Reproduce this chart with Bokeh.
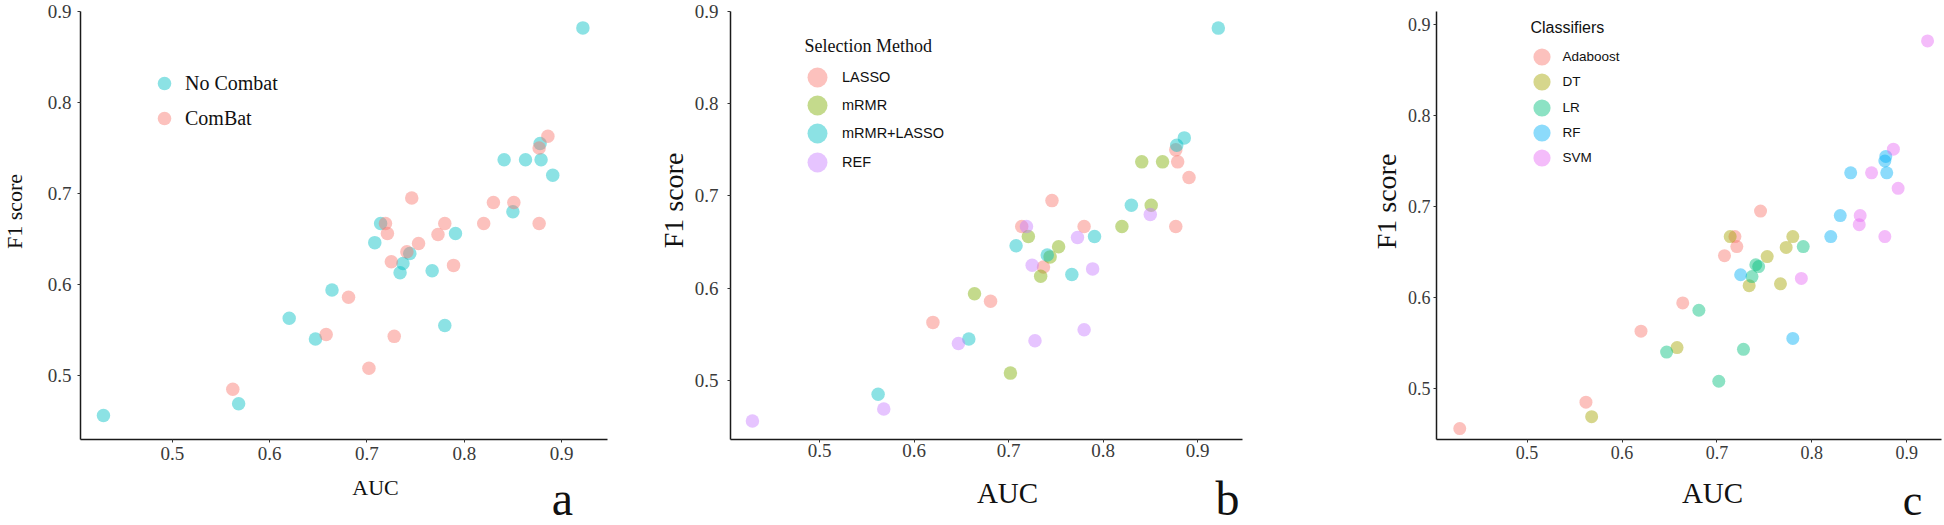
import math
from bokeh.plotting import figure
from bokeh.models import Range1d, FixedTicker, Legend, LegendItem, Label
from bokeh.layouts import row, column
from bokeh.embed import file_html
from bokeh.resources import INLINE

# ---------------- data (40 models: 20 without ComBat, 20 with ComBat) ----------------
auc = [0.922, 0.878, 0.841, 0.863, 0.879, 0.891, 0.850, 0.714, 0.708, 0.791,
       0.744, 0.737, 0.734, 0.767, 0.664, 0.620, 0.647, 0.780, 0.568, 0.429,
       0.886, 0.877, 0.746, 0.830, 0.851, 0.719, 0.820, 0.780, 0.877, 0.721,
       0.773, 0.753, 0.741, 0.725, 0.789, 0.681, 0.658, 0.728, 0.702, 0.562]
f1 = [0.882, 0.755, 0.737, 0.737, 0.737, 0.720, 0.680, 0.667, 0.646, 0.656,
      0.634, 0.623, 0.613, 0.615, 0.594, 0.563, 0.540, 0.555, 0.469, 0.456,
      0.763, 0.750, 0.695, 0.690, 0.690, 0.667, 0.667, 0.667, 0.667, 0.656,
      0.655, 0.645, 0.636, 0.625, 0.621, 0.586, 0.545, 0.543, 0.508, 0.485]
combat = ["No Combat"] * 20 + ["ComBat"] * 20
selection = ["mRMR+LASSO", "mRMR+LASSO", "mRMR", "mRMR", "LASSO", "LASSO", "REF", "LASSO", "mRMR+LASSO", "mRMR+LASSO",
             "mRMR", "LASSO", "mRMR", "mRMR+LASSO", "mRMR", "LASSO", "REF", "REF", "REF", "REF",
             "mRMR+LASSO", "LASSO", "LASSO", "mRMR+LASSO", "mRMR", "REF", "mRMR", "LASSO", "LASSO", "mRMR",
             "REF", "mRMR", "mRMR+LASSO", "REF", "REF", "LASSO", "mRMR+LASSO", "REF", "mRMR", "mRMR+LASSO"]
classifier = ["SVM", "RF", "RF", "SVM", "RF", "SVM", "SVM", "DT", "Adaboost", "LR",
              "LR", "LR", "DT", "DT", "Adaboost", "Adaboost", "LR", "RF", "DT", "Adaboost",
              "SVM", "RF", "Adaboost", "RF", "SVM", "Adaboost", "RF", "DT", "SVM", "Adaboost",
              "DT", "DT", "LR", "RF", "SVM", "LR", "DT", "LR", "LR", "Adaboost"]

combat_groups = ["No Combat", "ComBat"]
combat_colors = ["#00BFC4", "#F8766D"]
selection_groups = ["LASSO", "mRMR", "mRMR+LASSO", "REF"]
selection_colors = ["#F8766D", "#7CAE00", "#00BFC4", "#C77CFF"]
classifier_groups = ["Adaboost", "DT", "LR", "RF", "SVM"]
classifier_colors = ["#F8766D", "#A3A500", "#00BF7D", "#00B0F6", "#E76BF3"]

tick_values = [0.5, 0.6, 0.7, 0.8, 0.9]
tick_labels = ["0.5", "0.6", "0.7", "0.8", "0.9"]
x_title = "AUC"
y_title = "F1 score"
letters = ["a", "b", "c"]
legend_titles = [None, "Selection Method", "Classifiers"]

SERIF = "Liberation Serif"
SANS = "Liberation Sans"
HT = 472          # height of the row holding the plots
HB = 525 - HT     # height of the strip holding x titles and panel letters
TOP = 11          # common top border
FB = 439          # common frame bottom (canvas px)
BOT = HT - FB     # common bottom border


def blank(width, height, top=0, bottom=0):
    f = figure(width=width, height=height, x_range=Range1d(0, 1), y_range=Range1d(0, 1),
               x_axis_type=None, y_axis_type=None,
               min_border_left=0, min_border_right=0,
               min_border_top=top, min_border_bottom=bottom,
               output_backend="svg", toolbar_location=None)
    f.outline_line_color = None
    f.background_fill_color = "white"
    f.border_fill_color = "white"
    return f


def text_label(f, x, y, text, font, size, angle=0.0, align="center"):
    f.add_layout(Label(x=x, y=y, x_units="screen", y_units="screen", text=text,
                       text_font=font, text_font_size=size, angle=angle,
                       text_align=align, text_baseline="middle", text_color="#111111"))


def make_panel(attr, groups, colors, cfg):
    p = figure(width=cfg["w"], height=HT,
               x_range=Range1d(*cfg["xr"]), y_range=Range1d(*cfg["yr"]),
               min_border_left=cfg["ml"], min_border_right=cfg["mr"],
               min_border_top=TOP, min_border_bottom=BOT,
               output_backend="svg", toolbar_location=None)
    p.background_fill_color = "white"
    p.border_fill_color = "white"
    p.outline_line_color = None
    p.grid.visible = False
    for ax in (p.xaxis, p.yaxis):
        ax.ticker = FixedTicker(ticks=tick_values)
        ax.major_label_overrides = {v: t for v, t in zip(tick_values, tick_labels)}
        ax.minor_tick_line_color = None
        ax.major_tick_in = 0
        ax.major_tick_out = 3
        ax.major_tick_line_color = "#333333"
        ax.axis_line_color = "#1a1a1a"
        ax.axis_line_width = 1.5
        ax.major_label_text_font = SERIF
        ax.major_label_text_font_size = cfg["tick_fs"]
        ax.major_label_text_color = "#3a3a3a"
    p.xaxis.major_label_standoff = cfg["xstand"]
    p.yaxis.major_label_standoff = cfg["ystand"]

    lg = cfg["legend"]
    half = lg["box"] / 2.0
    for i, (g, c) in enumerate(zip(groups, colors)):
        xs = [a for a, k in zip(auc, attr) if k == g]
        ys = [b for b, k in zip(f1, attr) if k == g]
        r = p.scatter(xs, ys, size=cfg["ms"], fill_color=c, fill_alpha=0.45,
                      line_color=None)
        vy = FB - (lg["cy"][i] + half)
        legend = Legend(items=[LegendItem(label=g, renderers=[r])],
                        location=(lg["vx"], vy),
                        glyph_width=lg["box"], glyph_height=lg["box"],
                        spacing=0, padding=0, margin=0,
                        label_standoff=lg["standoff"],
                        label_text_font=lg["font"], label_text_font_size=lg["fs"],
                        label_text_color="#111111",
                        background_fill_alpha=0, border_line_color=None)
        p.add_layout(legend)

    if cfg["ltitle"]:
        t = cfg["ltitle"]
        text_label(p, t["x"], t["y"], t["text"], t["font"], t["fs"], align="left")
    return p


# frame: panel a 80..607, panel b 730..1242, panel c 1434..1941 (page px)
cfg_a = dict(w=610, xr=(0.4054, 0.9473), yr=(0.42967, 0.900), ml=50, mr=33,
             tick_fs="19px", xstand=4, ystand=6, ms=13.5,
             legend=dict(vx=67, cy=[83, 118], box=34, standoff=4, font=SERIF, fs="20px"),
             ltitle=None)
cfg_b = dict(w=640, xr=(0.4058, 0.9476), yr=(0.43604, 0.900), ml=40, mr=88,
             tick_fs="19px", xstand=1, ystand=9, ms=13.5,
             legend=dict(vx=62, cy=[77, 105, 133, 162], box=50, standoff=0, font=SANS, fs="14.5px"),
             ltitle=dict(x=74, y=FB - 45, text=legend_titles[1], font=SERIF, fs="18px"))
cfg_c = dict(w=540, xr=(0.4045, 0.9367), yr=(0.44396, 0.91429), ml=30, mr=3,
             tick_fs="18px", xstand=3, ystand=3, ms=13,
             legend=dict(vx=83.5, cy=[56, 81, 107, 132, 157], box=43, standoff=0, font=SANS, fs="13.5px"),
             ltitle=dict(x=94, y=FB - 27, text=legend_titles[2], font=SANS, fs="16px"))

pa = make_panel(combat, combat_groups, combat_colors, cfg_a)
pb = make_panel(selection, selection_groups, selection_colors, cfg_b)
pc = make_panel(classifier, classifier_groups, classifier_colors, cfg_c)

# y titles (narrow strips left of each panel)
fa = blank(30, HT, TOP, BOT)
text_label(fa, 14, FB - 211, y_title, SERIF, "22px", angle=math.pi / 2)
fb = blank(50, HT, TOP, BOT)
text_label(fb, 32.5, FB - 200, y_title, SERIF, "28px", angle=math.pi / 2)
fc = blank(74, HT, TOP, BOT)
text_label(fc, 56, FB - 201, y_title, SERIF, "28px", angle=math.pi / 2)

# x titles and panel letters (strip under the plots)
ga = blank(640, HB)
text_label(ga, 375, 525 - 487, x_title, SERIF, "22px")
text_label(ga, 562, 27, letters[0], SERIF, "48px")
gb = blank(690, HB)
text_label(gb, 367, 525 - 492, x_title, SERIF, "29px")
text_label(gb, 587, 27, letters[1], SERIF, "48px")
gc = blank(614, HB)
text_label(gc, 382, 525 - 492, x_title, SERIF, "29px")
text_label(gc, 582, 25, letters[2], SERIF, "44px")

layout = column(row(fa, pa, fb, pb, fc, pc), row(ga, gb, gc))
open("out.html", "w").write(file_html(layout, INLINE))
